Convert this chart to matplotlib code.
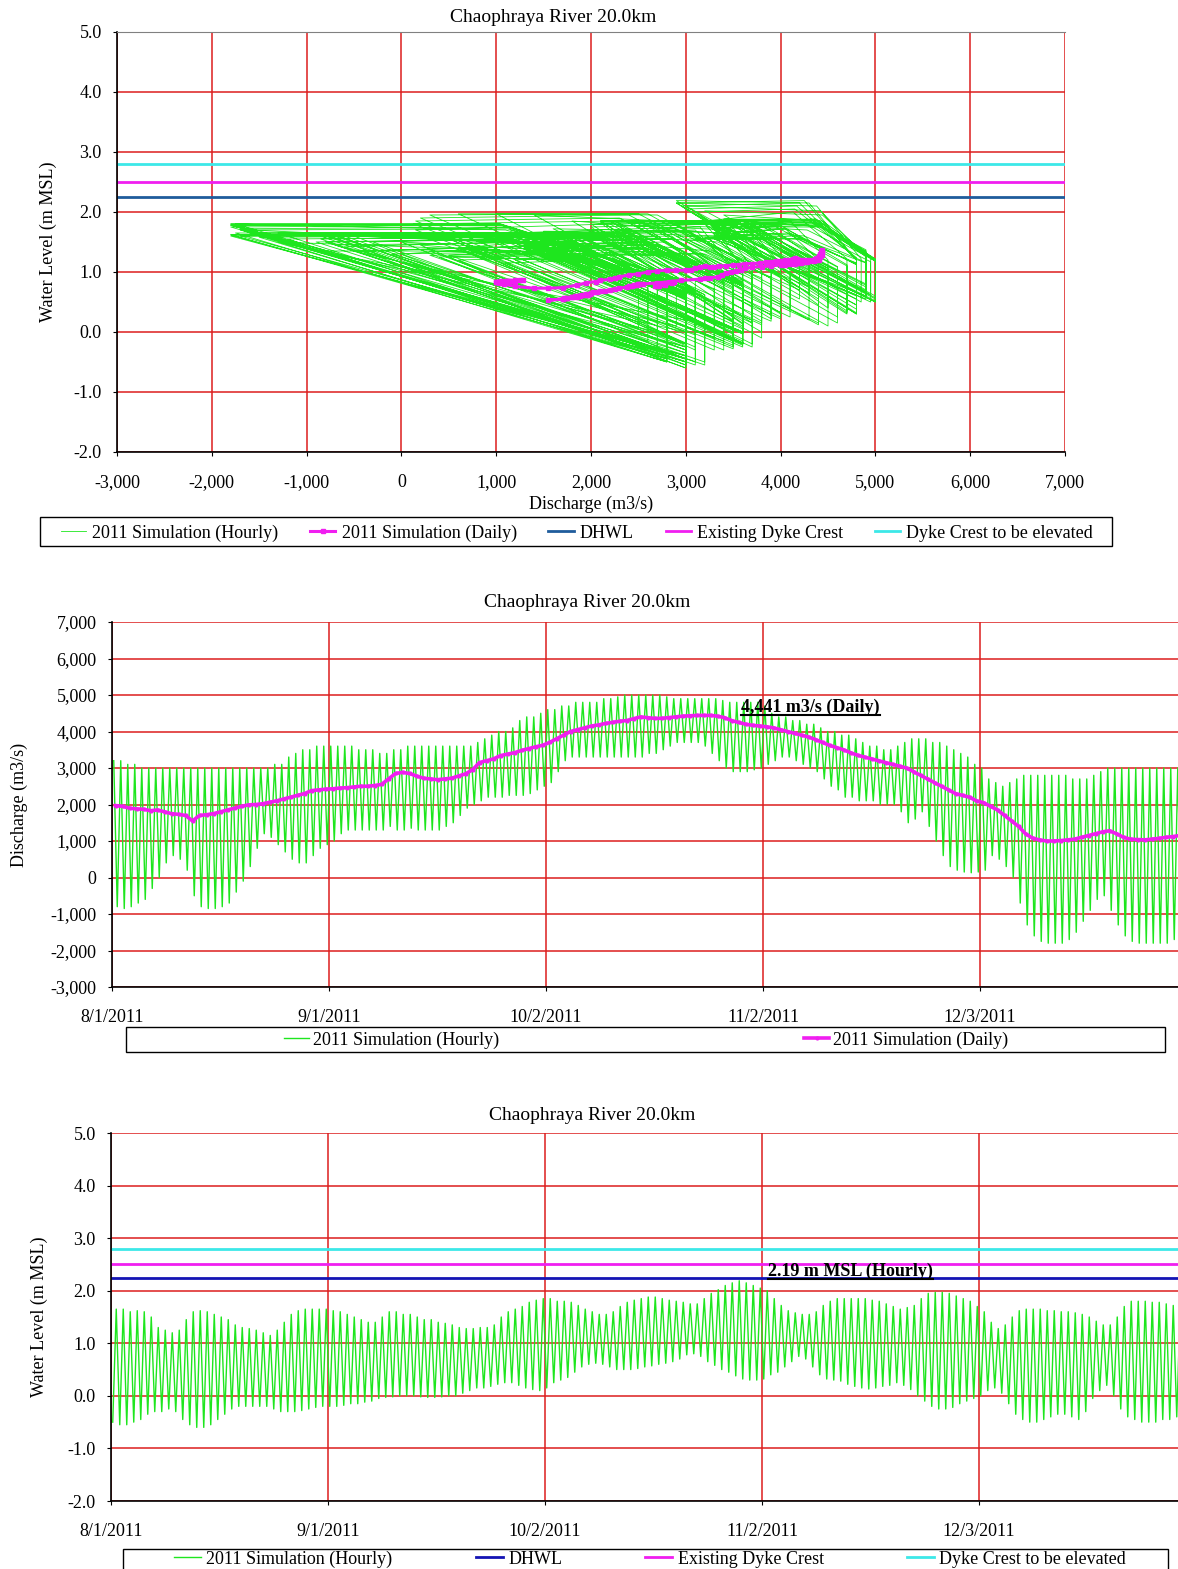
import numpy as np
import matplotlib
matplotlib.use('Agg')
import matplotlib.pyplot as plt
from matplotlib.lines import Line2D
from matplotlib.patches import Rectangle
from matplotlib.ticker import FuncFormatter

plt.rcParams['font.family'] = ['Liberation Serif', 'DejaVu Serif']
plt.rcParams['font.size'] = 13

# daily tidal extremes / daily means (day 0 = 8/1/2011)
q_max = [3200, 3200, 3100, 3100, 3000, 3000, 3000, 3000, 3000, 3000,
         3000, 3000, 3000, 3000, 3000, 3000, 3000, 3000, 3000, 3000,
         3000, 3000, 3000, 3100, 3100, 3300, 3400, 3500, 3500, 3600,
         3600, 3600, 3600, 3600, 3600, 3500, 3500, 3500, 3400, 3400,
         3500, 3500, 3600, 3600, 3600, 3600, 3600, 3600, 3600, 3600,
         3600, 3600, 3700, 3800, 3900, 4000, 4000, 4100, 4300, 4400,
         4400, 4500, 4600, 4600, 4700, 4700, 4800, 4800, 4800, 4800,
         4900, 4900, 4950, 5000, 5000, 5000, 5000, 5000, 5000, 4950,
         4900, 4900, 4900, 4900, 4900, 4900, 4900, 4850, 4800, 4800,
         4800, 4800, 4800, 4700, 4500, 4400, 4400, 4300, 4300, 4200,
         4200, 4100, 4000, 4000, 3900, 3900, 3800, 3700, 3600, 3600,
         3500, 3500, 3600, 3700, 3800, 3800, 3800, 3700, 3700, 3600,
         3500, 3400, 3300, 3100, 3000, 2700, 2600, 2500, 2600, 2700,
         2800, 2800, 2800, 2800, 2800, 2800, 2800, 2700, 2700, 2700,
         2800, 2900, 3000, 3000, 3000, 3000, 3000, 3000, 3000, 3000,
         3000, 3000, 3000]
q_min = [-800, -850, -800, -700, -600, -300, 0, 400, 600, 500,
         200, -500, -800, -850, -850, -800, -700, -400, -100, 300,
         800, 1200, 1100, 900, 700, 500, 400, 400, 600, 800,
         900, 1000, 1200, 1300, 1300, 1300, 1300, 1300, 1300, 1400,
         1300, 1300, 1350, 1300, 1300, 1300, 1300, 1400, 1500, 1700,
         1900, 2000, 2100, 2200, 2200, 2200, 2250, 2250, 2250, 2300,
         2400, 2500, 2600, 2900, 3200, 3300, 3300, 3300, 3300, 3300,
         3300, 3300, 3300, 3300, 3300, 3300, 3400, 3400, 3500, 3600,
         3700, 3700, 3700, 3700, 3600, 3400, 3200, 3000, 2900, 2900,
         2900, 2950, 3000, 3100, 3200, 3300, 3300, 3200, 3100, 3000,
         2900, 2700, 2500, 2400, 2200, 2200, 2100, 2100, 2100, 2000,
         2000, 2000, 1800, 1500, 1600, 1800, 1400, 1000, 600, 300,
         200, 150, 130, 150, 200, 600, 500, 300, 0, -700,
         -1300, -1600, -1750, -1800, -1800, -1800, -1700, -1500, -1200, -900,
         -600, -500, -900, -1300, -1600, -1750, -1800, -1800, -1800, -1800,
         -1800, -1700, -1700]
q_daily = [1970, 1950, 1900, 1880, 1870, 1830, 1850, 1800, 1750, 1730,
           1700, 1550, 1700, 1720, 1750, 1800, 1850, 1900, 1950, 1990,
           2000, 2020, 2060, 2100, 2150, 2200, 2250, 2300, 2380, 2400,
           2420, 2430, 2450, 2460, 2480, 2500, 2500, 2520, 2550, 2700,
           2850, 2880, 2850, 2780, 2720, 2700, 2680, 2700, 2720, 2780,
           2840, 2950, 3150, 3200, 3250, 3340, 3380, 3420, 3480, 3530,
           3580, 3620, 3700, 3800, 3900, 4000, 4050, 4100, 4150, 4180,
           4220, 4250, 4280, 4300, 4350, 4400, 4380, 4360, 4360, 4380,
           4400, 4420, 4430, 4440, 4441, 4441, 4420, 4380, 4300, 4250,
           4200, 4170, 4150, 4130, 4100, 4050, 4000, 3950, 3900, 3850,
           3780, 3700, 3620, 3560, 3500, 3420, 3350, 3300, 3250, 3200,
           3150, 3100, 3050, 3000, 2900, 2800, 2700, 2600, 2500, 2400,
           2300, 2250, 2200, 2100, 2050, 1950, 1850, 1700, 1550, 1400,
           1200, 1080, 1030, 1000, 1000, 1010, 1030, 1050, 1100, 1150,
           1200, 1250, 1280, 1200, 1100, 1050, 1040, 1030, 1050, 1070,
           1100, 1120, 1150]

wl_max = [1.65, 1.65, 1.60, 1.62, 1.60, 1.50, 1.30, 1.25, 1.20, 1.25,
          1.45, 1.60, 1.62, 1.60, 1.55, 1.50, 1.45, 1.35, 1.30, 1.28,
          1.25, 1.20, 1.15, 1.25, 1.40, 1.55, 1.62, 1.65, 1.65, 1.65,
          1.65, 1.62, 1.60, 1.55, 1.50, 1.45, 1.40, 1.40, 1.50, 1.60,
          1.60, 1.55, 1.55, 1.50, 1.45, 1.45, 1.40, 1.38, 1.35, 1.30,
          1.28, 1.28, 1.30, 1.30, 1.35, 1.50, 1.60, 1.65, 1.70, 1.78,
          1.82, 1.85, 1.85, 1.80, 1.80, 1.78, 1.72, 1.65, 1.60, 1.55,
          1.55, 1.60, 1.70, 1.78, 1.82, 1.85, 1.88, 1.88, 1.85, 1.82,
          1.80, 1.78, 1.75, 1.75, 1.85, 1.95, 2.02, 2.10, 2.15, 2.19,
          2.15, 2.10, 2.05, 2.00, 1.85, 1.72, 1.62, 1.58, 1.55, 1.55,
          1.60, 1.72, 1.80, 1.85, 1.85, 1.85, 1.85, 1.85, 1.82, 1.80,
          1.75, 1.70, 1.65, 1.68, 1.72, 1.85, 1.95, 1.97, 1.97, 1.95,
          1.90, 1.85, 1.80, 1.70, 1.60, 1.40, 1.28, 1.35, 1.50, 1.62,
          1.65, 1.65, 1.65, 1.62, 1.62, 1.60, 1.60, 1.58, 1.55, 1.50,
          1.42, 1.35, 1.35, 1.50, 1.70, 1.80, 1.80, 1.80, 1.78, 1.78,
          1.75, 1.72, 1.70]
wl_min = [-0.50, -0.55, -0.55, -0.50, -0.45, -0.35, -0.30, -0.30, -0.25, -0.30,
          -0.45, -0.55, -0.60, -0.60, -0.55, -0.45, -0.35, -0.25, -0.20, -0.20,
          -0.20, -0.20, -0.20, -0.25, -0.30, -0.30, -0.30, -0.28, -0.25, -0.22,
          -0.20, -0.20, -0.20, -0.18, -0.15, -0.15, -0.12, -0.10, -0.05, -0.03,
          -0.02, 0.00, 0.00, 0.00, -0.02, -0.03, -0.03, -0.02, 0.00, 0.00,
          0.05, 0.10, 0.15, 0.15, 0.18, 0.22, 0.25, 0.25, 0.20, 0.15,
          0.12, 0.10, 0.15, 0.25, 0.30, 0.35, 0.45, 0.55, 0.60, 0.62,
          0.60, 0.55, 0.50, 0.50, 0.50, 0.52, 0.55, 0.57, 0.60, 0.62,
          0.65, 0.70, 0.78, 0.80, 0.75, 0.65, 0.58, 0.50, 0.45, 0.38,
          0.32, 0.30, 0.30, 0.32, 0.40, 0.45, 0.55, 0.65, 0.75, 0.70,
          0.55, 0.40, 0.32, 0.30, 0.28, 0.22, 0.18, 0.15, 0.13, 0.15,
          0.18, 0.20, 0.25, 0.20, 0.12, 0.00, -0.10, -0.20, -0.25, -0.25,
          -0.22, -0.15, -0.10, -0.05, 0.00, 0.10, 0.15, 0.05, -0.15, -0.35,
          -0.45, -0.50, -0.50, -0.45, -0.40, -0.35, -0.35, -0.40, -0.45, -0.30,
          -0.05, 0.10, 0.20, 0.00, -0.25, -0.40, -0.45, -0.50, -0.50, -0.50,
          -0.45, -0.45, -0.40]
wl_daily = [0.62, 0.62, 0.61, 0.60, 0.60, 0.60, 0.59, 0.58, 0.57, 0.56,
            0.55, 0.53, 0.55, 0.56, 0.57, 0.58, 0.60, 0.62, 0.63, 0.64,
            0.65, 0.66, 0.67, 0.68, 0.69, 0.70, 0.72, 0.73, 0.75, 0.76,
            0.77, 0.77, 0.78, 0.78, 0.79, 0.80, 0.80, 0.80, 0.80, 0.82,
            0.84, 0.84, 0.82, 0.78, 0.76, 0.76, 0.76, 0.78, 0.80, 0.82,
            0.84, 0.86, 0.88, 0.90, 0.90, 0.92, 0.95, 0.98, 1.00, 1.02,
            1.04, 1.06, 1.08, 1.09, 1.10, 1.12, 1.12, 1.13, 1.14, 1.15,
            1.15, 1.16, 1.17, 1.18, 1.18, 1.20, 1.20, 1.21, 1.22, 1.24,
            1.26, 1.30, 1.35, 1.37, 1.33, 1.28, 1.25, 1.22, 1.20, 1.20,
            1.20, 1.22, 1.24, 1.22, 1.20, 1.20, 1.18, 1.18, 1.17, 1.16,
            1.15, 1.14, 1.14, 1.12, 1.12, 1.10, 1.10, 1.09, 1.09, 1.10,
            1.08, 1.06, 1.04, 1.03, 1.03, 1.03, 1.02, 1.00, 0.97, 0.95,
            0.92, 0.90, 0.88, 0.86, 0.84, 0.82, 0.78, 0.74, 0.73, 0.73,
            0.76, 0.80, 0.82, 0.84, 0.84, 0.84, 0.84, 0.85, 0.85, 0.85,
            0.86, 0.86, 0.86, 0.85, 0.84, 0.84, 0.84, 0.84, 0.84, 0.84,
            0.85, 0.85, 0.85]

dhwl = 2.25
dyke_existing = 2.50
dyke_elevated = 2.80

date_ticks = [0, 31, 62, 93, 124]
date_labels = ['8/1/2011', '9/1/2011', '10/2/2011', '11/2/2011', '12/3/2011']

GREEN = '#1ee61e'
PINK = '#f01ef0'
GRID = '#dc1e1e'
CYAN = '#3ce8e8'

days = np.arange(len(q_max))
# hourly curve drawn through the daily high / low tide values
t_hr = np.column_stack([days + 0.25, days + 0.75]).ravel()
q_hr = np.column_stack([q_max, q_min]).ravel()
wl_hr = np.column_stack([wl_min, wl_max]).ravel()

W, H = 1178, 1569
fig = plt.figure(figsize=(W / 100, H / 100), dpi=100)


def box(x0, y0, x1, y1):
    # pixel coords (top-left origin) -> figure fraction
    return [x0 / W, 1 - y1 / H, (x1 - x0) / W, (y1 - y0) / H]


def style(ax):
    ax.grid(True, color=GRID, linewidth=1.1)
    ax.set_axisbelow(True)
    ax.spines['right'].set_visible(False)
    ax.spines['top'].set_visible(False)
    ax.spines['left'].set_linewidth(1.2)
    ax.spines['bottom'].set_linewidth(1.2)
    ax.tick_params(length=3, labelsize=13)
    ax.tick_params(axis='y', pad=8)
    ax.tick_params(axis='x', pad=13)


def legend_frame(x0, y0, x1, y1):
    fig.add_artist(Rectangle((x0 / W, 1 - y1 / H), (x1 - x0) / W, (y1 - y0) / H,
                             transform=fig.transFigure, fill=False,
                             edgecolor='black', linewidth=1.0))


def underline(txt):
    fig.canvas.draw()
    bb = txt.get_window_extent().transformed(fig.transFigure.inverted())
    fig.add_artist(Line2D([bb.x0, bb.x1], [bb.y0 + 0.0005, bb.y0 + 0.0005],
                          transform=fig.transFigure, color='black', linewidth=1.5))


lvl_fmt = FuncFormatter(lambda v, p: f'{v:.1f}')
q_fmt = FuncFormatter(lambda v, p: f'{v:,.0f}')

# ---------- chart 1: water level vs discharge ----------
ax1 = fig.add_axes(box(117, 32, 1065, 452))
style(ax1)
ax1.spines['top'].set_visible(True)
ax1.spines['top'].set_color('#808080')
# one tidal loop per day: high tide -> low tide -> ebb peak -> flood
hx = np.column_stack([q_min, q_max, q_max, q_daily]).ravel()
hy = np.column_stack([wl_max, wl_min, wl_daily, wl_max]).ravel()
ax1.plot(hx, hy, color=GREEN, linewidth=0.6, label='2011 Simulation (Hourly)')
ax1.plot(q_daily, wl_daily, color=PINK, linewidth=2.2, marker='s', markersize=3,
         label='2011 Simulation (Daily)')
ax1.axhline(dhwl, color='#1f5c9c', linewidth=2, label='DHWL')
ax1.axhline(dyke_existing, color=PINK, linewidth=2, label='Existing Dyke Crest')
ax1.axhline(dyke_elevated, color=CYAN, linewidth=2, label='Dyke Crest to be elevated')
ax1.set_xlim(-3000, 7000)
ax1.set_ylim(-2, 5)
ax1.set_xticks(np.arange(-3000, 7001, 1000))
ax1.set_yticks(np.arange(-2, 5.01, 1))
ax1.xaxis.set_major_formatter(q_fmt)
ax1.yaxis.set_major_formatter(lvl_fmt)
ax1.set_xlabel('Discharge (m3/s)', fontsize=13, labelpad=3)
ax1.set_ylabel('Water Level (m MSL)', fontsize=13, labelpad=12)
fig.text(553 / W, 1 - 18 / H, 'Chaophraya River 20.0km', ha='center', va='center', fontsize=14)
legend_frame(40, 517, 1112, 546)
h1, l1 = ax1.get_legend_handles_labels()
fig.legend(h1, l1, loc='center', bbox_to_anchor=(577 / W, 1 - 533 / H), ncol=5,
           frameon=False, fontsize=13, handlelength=1.4, handletextpad=0.35,
           columnspacing=1.75)

# ---------- chart 2: discharge time series ----------
ax2 = fig.add_axes(box(112, 622, 1183, 987))
style(ax2)
ax2.plot(t_hr, q_hr, color=GREEN, linewidth=1.0, label='2011 Simulation (Hourly)')
ax2.plot(days + 0.5, q_daily, color=PINK, linewidth=2.6, marker='.', markersize=4,
         label='2011 Simulation (Daily)')
ax2.set_xlim(0, 153)
ax2.set_ylim(-3000, 7000)
ax2.set_yticks(np.arange(-3000, 7001, 1000))
ax2.yaxis.set_major_formatter(q_fmt)
ax2.set_xticks(date_ticks)
ax2.set_xticklabels(date_labels)
ax2.set_ylabel('Discharge (m3/s)', fontsize=13, labelpad=16)
fig.text(587 / W, 1 - 603 / H, 'Chaophraya River 20.0km', ha='center', va='center', fontsize=14)
t2 = ax2.text(89.9, max(q_daily) - 20, f'{max(q_daily):,.0f} m3/s (Daily)',
              fontsize=13, fontweight='bold', va='bottom')
legend_frame(126, 1027, 1165, 1052)
h2, l2 = ax2.get_legend_handles_labels()
fig.legend(h2, l2, loc='center', bbox_to_anchor=(646 / W, 1 - 1040 / H), ncol=2,
           frameon=False, fontsize=13, handlelength=1.4, handletextpad=0.2,
           columnspacing=16.9)

# ---------- chart 3: water level time series ----------
ax3 = fig.add_axes(box(111, 1133, 1182, 1501))
style(ax3)
ax3.plot(t_hr, wl_hr, color=GREEN, linewidth=1.0, label='2011 Simulation (Hourly)')
ax3.axhline(dhwl, color='#1414b4', linewidth=2, label='DHWL')
ax3.axhline(dyke_existing, color=PINK, linewidth=2, label='Existing Dyke Crest')
ax3.axhline(dyke_elevated, color=CYAN, linewidth=2, label='Dyke Crest to be elevated')
ax3.set_xlim(0, 153)
ax3.set_ylim(-2, 5)
ax3.set_yticks(np.arange(-2, 5.01, 1))
ax3.yaxis.set_major_formatter(lvl_fmt)
ax3.set_xticks(date_ticks)
ax3.set_xticklabels(date_labels)
ax3.set_ylabel('Water Level (m MSL)', fontsize=13, labelpad=14)
fig.text(592 / W, 1 - 1116 / H, 'Chaophraya River 20.0km', ha='center', va='center', fontsize=14)
t3 = ax3.text(93.9, dhwl - 0.05, f'{max(wl_max):.2f} m MSL (Hourly)',
              fontsize=13, fontweight='bold', va='bottom')
legend_frame(123, 1549, 1168, 1575)
h3, l3 = ax3.get_legend_handles_labels()
fig.legend(h3, l3, loc='center', bbox_to_anchor=(650 / W, 1 - 1559 / H), ncol=4,
           frameon=False, fontsize=13, handlelength=1.5, handletextpad=0.3,
           columnspacing=4.6)

underline(t2)
underline(t3)

fig.savefig('out.png', dpi=100)
